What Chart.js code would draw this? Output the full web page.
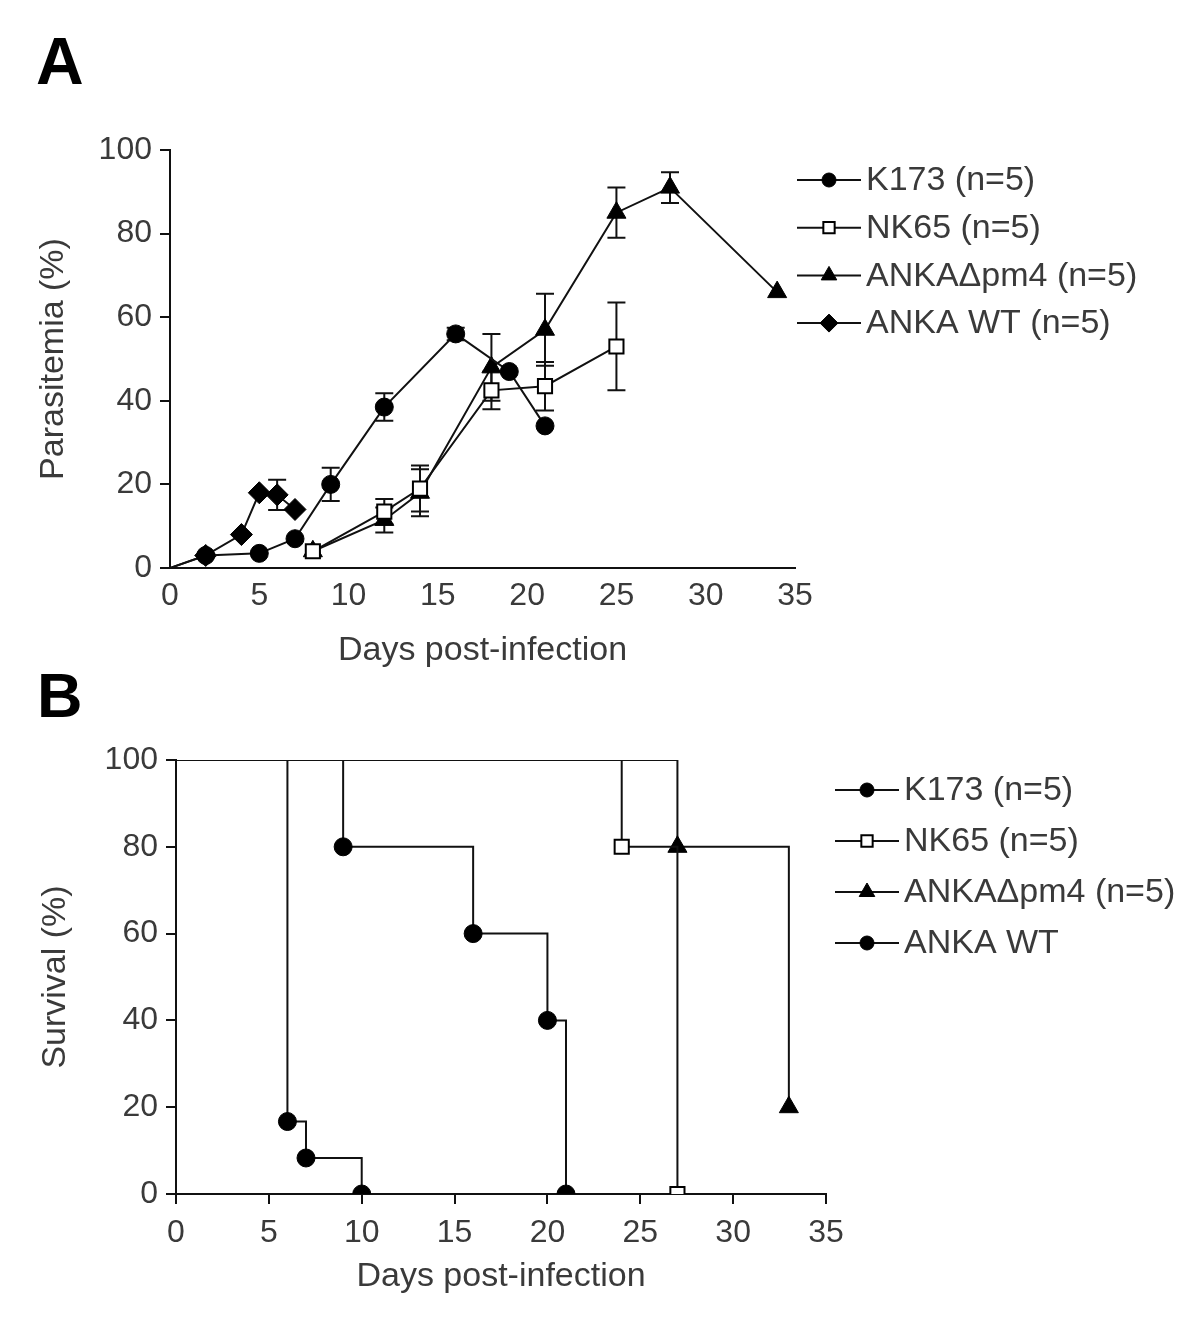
<!DOCTYPE html>
<html>
<head>
<meta charset="utf-8">
<script src="https://cdn.jsdelivr.net/npm/chart.js@4.4.1/dist/chart.umd.min.js"></script>
<style>
  body { margin: 0; background: #fff; width: 1200px; height: 1335px; position: relative; overflow: hidden; font-family: "Liberation Sans", Arial, sans-serif; }
  .panel { position: absolute; left: 0; }
  .tag { position: absolute; font-weight: bold; color: #000; line-height: 1; }
</style>
</head>
<body>
<div class="tag" style="left:36px; top:28px; font-size:66px;">A</div>
<div class="tag" style="left:37px; top:664px; font-size:63px;">B</div>
<div class="panel" style="top:0;"><canvas id="chartA" width="1200" height="680"></canvas></div>
<div class="panel" style="top:680px;"><canvas id="chartB" width="1200" height="655"></canvas></div>
<script>
// Panel A - parasitemia (mean, error = SEM)
const daysK173 = [0, 2, 5, 7, 9, 12, 16, 19, 21];
const paraK173 = [0, 3, 3.5, 7, 20, 38.5, 56, 47, 34];
const errK173 = [0, 0, 0, 0, 4, 3.3, 1.5, 0, 0];

const daysNK65 = [8, 12, 14, 18, 21, 25];
const paraNK65 = [4, 13.5, 19, 42.5, 43.5, 53];
const errNK65 = [0, 3, 5.5, 4.5, 5.8, 10.5];

const daysPm4 = [8, 12, 14, 18, 21, 25, 28, 34];
const paraPm4 = [4, 11.5, 18, 48, 57, 85, 91, 66];
const errPm4 = [0, 3, 5.6, 8, 8.6, 6, 3.7, 0];

const daysWT = [0, 2, 4, 5, 6, 7];
const paraWT = [0, 3, 8, 18, 17.5, 14];
const errWT = [0, 0, 0, 0, 3.6, 0];

// Panel B - survival (Kaplan-Meier steps)
const survDaysK173 = [0, 9, 16, 20, 21];
const survK173 = [100, 80, 60, 40, 0];
const survDaysNK65 = [0, 24, 27];
const survNK65 = [100, 80, 0];
const survDaysPm4 = [0, 27, 33];
const survPm4 = [100, 80, 20];
const survDaysWT = [0, 6, 7, 10];
const survWT = [100, 16.7, 8.3, 0];

const labelsA = ['K173 (n=5)', 'NK65 (n=5)', 'ANKA\u0394pm4 (n=5)', 'ANKA WT (n=5)'];
const labelsB = ['K173 (n=5)', 'NK65 (n=5)', 'ANKA\u0394pm4 (n=5)', 'ANKA WT'];

const ink = '#111';
const textCol = '#3a3a3a';
const fontFam = '"Liberation Sans", Arial, sans-serif';

function pts(xs, ys) {
  return xs.map((x, i) => ({ x: x, y: ys[i] }));
}

// first point of each series is just the line start, no symbol
function radii(n, r, skipFirst) {
  return Array.from({ length: n }, (_, i) => (skipFirst && i === 0 ? 0 : r));
}

function series(label, xs, ys, style, r, skipFirst, extra) {
  const open = style === 'openRect';
  return Object.assign({
    label: label,
    data: pts(xs, ys),
    showLine: true,
    borderColor: ink,
    borderWidth: 2,
    pointStyle: open ? 'rect' : style,
    pointRadius: radii(xs.length, r, skipFirst),
    pointBackgroundColor: open ? '#fff' : '#000',
    pointBorderColor: '#000',
    pointBorderWidth: open ? 2 : 1,
    legendRadius: r - 2
  }, extra || {});
}

const errorBars = {
  id: 'errorBars',
  beforeDatasetsDraw(chart) {
    const { ctx, scales } = chart;
    const x = scales.x, y = scales.y;
    ctx.save();
    ctx.strokeStyle = ink;
    ctx.lineWidth = 2;
    chart.data.datasets.forEach(ds => {
      if (!ds.errors) return;
      ds.data.forEach((p, i) => {
        const e = ds.errors[i];
        if (!e) return;
        const px = x.getPixelForValue(p.x);
        const top = y.getPixelForValue(p.y + e);
        const bot = y.getPixelForValue(p.y - e);
        ctx.beginPath();
        ctx.moveTo(px, top); ctx.lineTo(px, bot);
        ctx.moveTo(px - 9, top); ctx.lineTo(px + 9, top);
        ctx.moveTo(px - 9, bot); ctx.lineTo(px + 9, bot);
        ctx.stroke();
      });
    });
    ctx.restore();
  }
};

const sideLegend = {
  id: 'sideLegend',
  afterDraw(chart, args, opts) {
    const ctx = chart.ctx;
    ctx.save();
    chart.data.datasets.forEach((ds, i) => {
      const y = opts.top + i * opts.gap;
      ctx.strokeStyle = ink;
      ctx.lineWidth = 2;
      ctx.beginPath();
      ctx.moveTo(opts.x, y);
      ctx.lineTo(opts.x + opts.len, y);
      ctx.stroke();
      ctx.fillStyle = ds.pointBackgroundColor;
      ctx.strokeStyle = '#000';
      ctx.lineWidth = ds.pointBorderWidth;
      Chart.helpers.drawPoint(ctx, {
        pointStyle: ds.pointStyle, radius: ds.legendRadius,
        borderWidth: ds.pointBorderWidth, rotation: 0
      }, opts.x + opts.len / 2, y);
      ctx.fillStyle = textCol;
      ctx.font = opts.size + 'px ' + fontFam;
      ctx.textBaseline = 'middle';
      ctx.textAlign = 'left';
      ctx.fillText(ds.label, opts.x + opts.len + 5, y + 1);
    });
    ctx.restore();
  }
};

function axes(xOpt, yOpt) {
  return {
    x: {
      type: 'linear', min: 0, max: 35,
      ticks: { stepSize: 5, color: textCol, font: { size: 32, family: fontFam }, padding: xOpt.pad },
      grid: { drawOnChartArea: false, drawTicks: xOpt.ticks, tickLength: 10, color: ink, lineWidth: 2 },
      border: { color: ink, width: 2 },
      title: { display: true, text: 'Days post-infection', color: textCol, font: { size: 34, family: fontFam }, padding: { top: 0, bottom: xOpt.titlePad } },
      afterFit: s => { s.height = xOpt.h; }
    },
    y: {
      min: 0, max: 100,
      ticks: { stepSize: 20, color: textCol, font: { size: 32, family: fontFam }, padding: 8 },
      grid: { drawOnChartArea: false, tickLength: 10, color: ink, lineWidth: 2 },
      border: { color: ink, width: 2 },
      title: { display: true, text: yOpt.title, color: textCol, font: { size: 34, family: fontFam }, padding: { top: yOpt.titlePad, bottom: 0 } },
      afterFit: s => { s.width = yOpt.w; }
    }
  };
}

new Chart(document.getElementById('chartA'), {
  type: 'scatter',
  data: {
    datasets: [
      series(labelsA[0], daysK173, paraK173, 'circle', 9, true, { errors: errK173 }),
      series(labelsA[1], daysNK65, paraNK65, 'openRect', 10, false, { errors: errNK65 }),
      series(labelsA[2], daysPm4, paraPm4, 'triangle', 11, false, { errors: errPm4 }),
      series(labelsA[3], daysWT, paraWT, 'rectRot', 11, true, { errors: errWT })
    ]
  },
  options: {
    responsive: false,
    animation: false,
    layout: { padding: { left: 20, right: 405, top: 150, bottom: 0 } },
    plugins: {
      legend: { display: false },
      tooltip: { enabled: false },
      sideLegend: { x: 797, len: 64, top: 180, gap: 47.7, size: 34 }
    },
    scales: axes({ ticks: false, pad: 9, h: 112, titlePad: 9 }, { title: 'Parasitemia (%)', w: 150, titlePad: 13 })
  },
  plugins: [errorBars, sideLegend]
});

new Chart(document.getElementById('chartB'), {
  type: 'scatter',
  data: {
    datasets: [
      series(labelsB[0], survDaysK173, survK173, 'circle', 9, true, { stepped: 'before' }),
      series(labelsB[1], survDaysNK65, survNK65, 'openRect', 10, true, { stepped: 'before' }),
      series(labelsB[2], survDaysPm4, survPm4, 'triangle', 11, true, { stepped: 'before' }),
      series(labelsB[3], survDaysWT, survWT, 'circle', 9, true, { stepped: 'before' })
    ]
  },
  options: {
    responsive: false,
    animation: false,
    layout: { padding: { left: 20, right: 374, top: 80, bottom: 0 } },
    plugins: {
      legend: { display: false },
      tooltip: { enabled: false },
      sideLegend: { x: 835, len: 64, top: 110, gap: 51, size: 34 }
    },
    scales: axes({ ticks: true, pad: 10, h: 141, titlePad: 38 }, { title: 'Survival (%)', w: 156, titlePad: 15 })
  },
  plugins: [sideLegend]
});
</script>
</body>
</html>
